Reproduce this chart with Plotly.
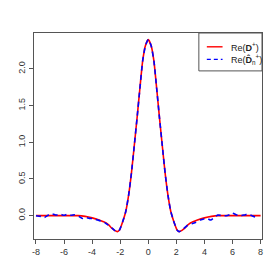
import plotly.graph_objects as go

# True curve Re(D+)
x_true = [-8.0, -7.0, -6.0, -5.0, -4.5, -4.0, -3.5, -3.0, -2.8, -2.6, -2.4, -2.2, -2.05, -1.95, -1.8, -1.6, -1.4,
          -1.2, -1.0, -0.8, -0.6, -0.4, -0.2, 0.0, 0.2, 0.4, 0.6, 0.8, 1.0, 1.2, 1.4, 1.6, 1.8,
          1.95, 2.05, 2.2, 2.4, 2.6, 2.8, 3.0, 3.5, 4.0, 4.5, 5.0, 6.0, 7.0, 8.0]
y_true = [0.0, 0.0, 0.0, 0.0, -0.01, -0.03, -0.06, -0.10, -0.13, -0.17, -0.20, -0.217, -0.195, -0.15, -0.07, 0.06, 0.28,
          0.58, 0.95, 1.33, 1.73, 2.11, 2.32, 2.40, 2.32, 2.11, 1.73, 1.33, 0.95, 0.58, 0.28, 0.06, -0.07,
          -0.15, -0.195, -0.217, -0.20, -0.17, -0.13, -0.10, -0.06, -0.03, -0.01, 0.0, 0.0, 0.0, 0.0]

# Estimate Re(D_n hat +)
x_est = [-8.0, -7.65, -7.4, -7.1, -6.85, -6.55, -6.3, -6.0, -5.75, -5.5, -5.25, -4.95, -4.7, -4.45,
         -4.2, -3.9, -3.6, -3.35, -3.1, -2.85, -2.6, -2.4, -2.2, -2.05, -1.95, -1.8, -1.6, -1.4, -1.2, -1.0,
         -0.8, -0.6, -0.4, -0.2, 0.0, 0.2, 0.4, 0.6, 0.8, 1.0, 1.2, 1.4, 1.6, 1.8, 1.95, 2.05, 2.2, 2.5,
         2.8, 3.1, 3.4, 3.7, 3.95, 4.2, 4.45, 4.7, 4.95, 5.25, 5.55, 5.8, 6.0, 6.3, 6.6, 6.85, 7.1,
         7.4, 7.65, 7.8]
y_est = [0.0, -0.01, -0.025, 0.01, 0.025, 0.01, 0.022, 0.005, 0.02, 0.005, 0.012, -0.01, -0.038, -0.025,
         -0.038, -0.04, -0.06, -0.075, -0.095, -0.13, -0.165, -0.2, -0.218, -0.195, -0.15, -0.07, 0.06, 0.28, 0.58, 0.95,
         1.33, 1.73, 2.11, 2.32, 2.40, 2.32, 2.11, 1.73, 1.33, 0.95, 0.58, 0.28, 0.06, -0.07, -0.15, -0.195, -0.217, -0.18,
         -0.13, -0.11, -0.09, -0.06, -0.045, -0.04, -0.06, -0.025, 0.01, 0.0, 0.0, 0.015, 0.033, 0.01, 0.0, 0.01, 0.022,
         0.0, -0.022, -0.01]

x_ticks = [-8, -6, -4, -2, 0, 2, 4, 6, 8]
x_ticklabels = ["-8", "-6", "-4", "-2", "0", "2", "4", "6", "8"]
y_ticks = [0.0, 0.5, 1.0, 1.5, 2.0]
y_ticklabels = ["0.0", "0.5", "1.0", "1.5", "2.0"]
legend_labels = ["Re(<b>D</b><sup>+</sup>)", "Re(<b>D\u0302</b><sub>n</sub><sup>+</sup>)"]

font = "Liberation Sans, Arial, sans-serif"
axis_col = "#555555"

fig = go.Figure()
fig.add_trace(go.Scatter(x=x_true, y=y_true, mode="lines", line=dict(color="#ff0000", width=1.6, shape="spline", smoothing=0.5),
                         showlegend=False))
fig.add_trace(go.Scatter(x=x_est, y=y_est, mode="lines", line=dict(color="#0000ff", width=1.6, dash="5px,4px", shape="spline", smoothing=0.5),
                         showlegend=False))

axis_common = dict(showline=True, mirror=True, linecolor=axis_col, linewidth=1, ticks="outside", ticklen=4,
                   tickcolor=axis_col, showgrid=False, zeroline=False,
                   tickfont=dict(family=font, size=9, color="#333333"))
fig.update_xaxes(range=[-8.14, 8.1], tickvals=x_ticks, ticktext=x_ticklabels, **axis_common)
fig.update_yaxes(range=[-0.318, 2.49], tickvals=y_ticks, ticktext=y_ticklabels, tickangle=-90, **axis_common)

# manual legend box (R-style)
fig.add_shape(type="rect", xref="paper", yref="paper", x0=0.723, x1=1.0, y0=0.816, y1=1.0,
              line=dict(color=axis_col, width=1), fillcolor="white", layer="above")
fig.add_shape(type="line", xref="paper", yref="paper", x0=0.758, x1=0.827, y0=0.933, y1=0.933,
              line=dict(color="#ff0000", width=1.4), layer="above")
fig.add_shape(type="line", xref="paper", yref="paper", x0=0.758, x1=0.827, y0=0.872, y1=0.872,
              line=dict(color="#0000ff", width=1.4, dash="4px,3px"), layer="above")
for yy, txt in zip([0.933, 0.872], legend_labels):
    fig.add_annotation(xref="paper", yref="paper", x=0.855, y=yy, text=txt, showarrow=False,
                       xanchor="left", yanchor="middle", font=dict(family=font, size=9, color="#222222"))

fig.update_layout(width=264, height=264, margin=dict(l=24, r=9, t=25, b=33),
                  plot_bgcolor="white", paper_bgcolor="white", showlegend=False)

fig.write_html("out.html")
